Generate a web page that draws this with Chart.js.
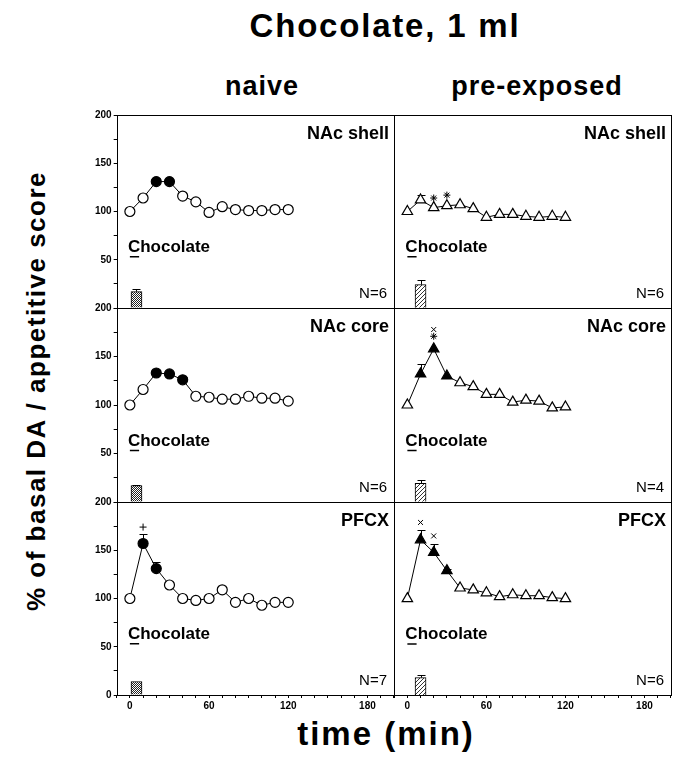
<!DOCTYPE html>
<html>
<head>
<meta charset="utf-8">
<script src="https://cdn.jsdelivr.net/npm/chart.js@4.4.0/dist/chart.umd.min.js"></script>
<style>
body { margin: 0; background: #fff; width: 678px; height: 768px; position: relative; overflow: hidden;
  font-family: "Liberation Sans", Arial, sans-serif; }
.txt { position: absolute; font-weight: bold; color: #000; white-space: nowrap; line-height: 1; }
canvas { position: absolute; }
</style>
</head>
<body>
<div class="txt" style="left:385px;top:9px;font-size:33px;letter-spacing:1.8px;transform:translateX(-50%)">Chocolate, 1 ml</div>
<div class="txt" style="left:262px;top:73px;font-size:27px;letter-spacing:1px;transform:translateX(-50%)">naive</div>
<div class="txt" style="left:537px;top:73px;font-size:27px;letter-spacing:1px;transform:translateX(-50%)">pre-exposed</div>
<div class="txt" style="left:36px;top:391px;font-size:26px;letter-spacing:1.5px;transform:translate(-50%,-50%) rotate(-90deg)">% of basal DA / appetitive score</div>
<div class="txt" style="left:386px;top:717px;font-size:33px;letter-spacing:2px;transform:translateX(-50%)">time (min)</div>

<script>
// sampling times (min)
const times = [0, 10, 20, 30, 40, 50, 60, 70, 80, 90, 100, 110, 120];

// NAc shell
const naiveShell    = [100, 114, 131, 131, 116, 110, 99, 105, 102, 101, 101, 102, 102];
const naiveShellErr = [0, 0, 4, 3, 0, 0, 0, 0, 0, 0, 0, 0, 0];
const naiveShellSig = [0, 0, 1, 1, 0, 0, 0, 0, 0, 0, 0, 0, 0];
const preShell      = [100, 112, 104, 106, 107, 103, 94, 97, 97, 95, 94, 95, 94];
const preShellErr   = [0, 5, 0, 0, 0, 0, 0, 0, 0, 0, 0, 0, 0];
const preShellSig   = [0, 0, 0, 0, 0, 0, 0, 0, 0, 0, 0, 0, 0];

// NAc core
const naiveCore    = [100, 116, 133, 132, 126, 109, 108, 106, 106, 109, 107, 107, 104];
const naiveCoreErr = [0, 0, 3, 2, 3, 0, 0, 0, 0, 0, 0, 0, 0];
const naiveCoreSig = [0, 0, 1, 1, 1, 0, 0, 0, 0, 0, 0, 0, 0];
const preCore      = [100, 132, 158, 130, 123, 119, 111, 111, 103, 105, 104, 97, 98];
const preCoreErr   = [0, 10, 0, 0, 0, 0, 0, 0, 0, 0, 0, 0, 0];
const preCoreSig   = [0, 1, 1, 1, 0, 0, 0, 0, 0, 0, 0, 0, 0];

// PFCX
const naivePfc    = [100, 157, 131, 114, 100, 98, 100, 109, 96, 100, 93, 96, 96];
const naivePfcErr = [0, 10, 7, 0, 0, 0, 0, 0, 0, 0, 0, 0, 0];
const naivePfcSig = [0, 1, 1, 0, 0, 0, 0, 0, 0, 0, 0, 0, 0];
const prePfc      = [100, 161, 148, 129, 111, 109, 106, 102, 104, 103, 103, 101, 100];
const prePfcErr   = [0, 10, 9, 2, 0, 0, 0, 0, 0, 0, 0, 0, 0];
const prePfcSig   = [0, 1, 1, 1, 0, 0, 0, 0, 0, 0, 0, 0, 0];

// appetitive score bars (shell, core, pfcx)
const naiveScoreTime = 5;
const preScoreTime = 10;
const naiveScores   = [17, 17, 14];
const naiveScoreErr = [3, 1, 0];
const preScores     = [24, 19, 18];
const preScoreErr   = [5, 4, 3];

// chocolate delivery (min)
const dose = [0, 7];

const regions = ['NAc shell', 'NAc core', 'PFCX'];
const naiveN = ['N=6', 'N=6', 'N=7'];
const preN = ['N=6', 'N=4', 'N=6'];

// significance symbols [time, value]
const preShellStars = [[20, 114], [30, 117]];
const preCoreStars = [[20, 171]];
const preCoreCrosses = [[20, 178]];
const naivePfcPlus = [[10, 174]];
const prePfcCrosses = [[10, 179], [20, 165]];

Chart.defaults.font.family = '"Liberation Sans", Arial, sans-serif';
Chart.defaults.color = '#000';

const colLeft = [117, 394];
const colWidth = 277;
const rowTop = [115, 308, 502];
const rowHeight = [193, 194, 193];
const FONT = '"Liberation Sans", Arial, sans-serif';

function makePattern(kind) {
  const c = document.createElement('canvas');
  const g = c.getContext('2d');
  if (kind === 'check') {
    c.width = c.height = 2;
    g.fillStyle = '#fff'; g.fillRect(0, 0, 2, 2);
    g.fillStyle = '#222'; g.fillRect(0, 0, 1, 1); g.fillRect(1, 1, 1, 1);
  } else {
    c.width = c.height = 4;
    g.fillStyle = '#fff'; g.fillRect(0, 0, 4, 4);
    g.fillStyle = '#333';
    for (let i = 0; i < 4; i++) g.fillRect(3 - i, i, 1, 1);
  }
  return g.createPattern(c, 'repeat');
}

const panels = [
  { col: 0, row: 0, vals: naiveShell, err: naiveShellErr, sig: naiveShellSig, score: naiveScores[0], scoreErr: naiveScoreErr[0], at: naiveScoreTime, label: regions[0], n: naiveN[0], marks: [] },
  { col: 1, row: 0, vals: preShell, err: preShellErr, sig: preShellSig, score: preScores[0], scoreErr: preScoreErr[0], at: preScoreTime, label: regions[0], n: preN[0], marks: [['star', preShellStars]] },
  { col: 0, row: 1, vals: naiveCore, err: naiveCoreErr, sig: naiveCoreSig, score: naiveScores[1], scoreErr: naiveScoreErr[1], at: naiveScoreTime, label: regions[1], n: naiveN[1], marks: [] },
  { col: 1, row: 1, vals: preCore, err: preCoreErr, sig: preCoreSig, score: preScores[1], scoreErr: preScoreErr[1], at: preScoreTime, label: regions[1], n: preN[1], marks: [['star', preCoreStars], ['crossRot', preCoreCrosses]] },
  { col: 0, row: 2, vals: naivePfc, err: naivePfcErr, sig: naivePfcSig, score: naiveScores[2], scoreErr: naiveScoreErr[2], at: naiveScoreTime, label: regions[2], n: naiveN[2], marks: [['cross', naivePfcPlus]] },
  { col: 1, row: 2, vals: prePfc, err: prePfcErr, sig: prePfcSig, score: preScores[2], scoreErr: preScoreErr[2], at: preScoreTime, label: regions[2], n: preN[2], marks: [['crossRot', prePfcCrosses]] }
];

function config(p) {
  const tri = p.col === 1;
  const datasets = [
    {
      type: 'line',
      data: times.map((t, i) => ({ x: t, y: p.vals[i] })),
      borderColor: '#000', borderWidth: 1, tension: 0,
      pointStyle: tri ? 'triangle' : 'circle',
      pointRadius: tri ? 6 : 5,
      pointBorderWidth: 1.2,
      pointBorderColor: '#000',
      pointBackgroundColor: p.sig.map(s => s ? '#000' : '#fff'),
      clip: false, order: 1
    },
    {
      type: 'bar',
      data: [{ x: p.at, y: p.score }],
      backgroundColor: makePattern(tri ? 'hatch' : 'check'),
      borderColor: '#000', borderWidth: 1, barThickness: 11, order: 3
    },
    {
      type: 'line',
      data: dose.map(t => ({ x: t, y: 53 })),
      borderColor: '#000', borderWidth: 1.5, pointRadius: 0, order: 2
    }
  ];
  p.marks.forEach(([style, pts]) => {
    datasets.push({
      type: 'scatter',
      data: pts.map(([t, v]) => ({ x: t, y: v })),
      pointStyle: style, pointRadius: 3.5,
      borderColor: '#000', backgroundColor: '#000', pointBorderWidth: 1,
      clip: false, order: 0
    });
  });

  const panelPlugin = {
    id: 'panel',
    beforeDatasetsDraw(chart) {
      const { ctx, scales: { x, y } } = chart;
      ctx.save();
      ctx.strokeStyle = '#000';
      ctx.lineWidth = 1;
      const bar = (t, v, e) => {
        if (!e) return;
        const px = Math.round(x.getPixelForValue(t)) + 0.5;
        const y0 = y.getPixelForValue(v), y1 = Math.round(y.getPixelForValue(v + e)) + 0.5;
        ctx.beginPath();
        ctx.moveTo(px, y0); ctx.lineTo(px, y1);
        ctx.moveTo(px - 4, y1); ctx.lineTo(px + 4, y1);
        ctx.stroke();
      };
      p.err.forEach((e, i) => bar(times[i], p.vals[i], e));
      bar(p.at, p.score, p.scoreErr);
      ctx.restore();
    },
    afterDraw(chart) {
      const { ctx, chartArea: a, scales: { x, y } } = chart;
      const L = Math.round(a.left), T = Math.round(a.top), R = Math.round(a.right), B = Math.round(a.bottom);
      ctx.save();
      ctx.strokeStyle = '#000';
      ctx.lineWidth = 1;
      ctx.strokeRect(L + 0.5, T + 0.5, R - L, B - T);
      ctx.fillStyle = '#000';
      ctx.textBaseline = 'alphabetic';
      ctx.textAlign = 'right';
      ctx.font = 'bold 18px ' + FONT;
      ctx.fillText(p.label, R - 5, T + 24);
      ctx.font = '15px ' + FONT;
      ctx.fillText(p.n, R - 7, B - 10);
      ctx.textAlign = 'left';
      ctx.font = 'bold 17px ' + FONT;
      ctx.fillText('Chocolate', x.getPixelForValue(0) - 2, y.getPixelForValue(58));
      ctx.restore();
    }
  };

  const bottom = p.row === 2;
  return {
    type: 'line',
    data: { datasets },
    options: {
      responsive: false,
      maintainAspectRatio: false,
      animation: false,
      events: [],
      layout: { padding: { top: 6, right: 4, left: 0, bottom: 0 } },
      plugins: { legend: { display: false }, tooltip: { enabled: false } },
      scales: {
        x: {
          type: 'linear', min: -10, max: 200, offset: false,
          display: bottom,
          border: { display: false },
          grid: { offset: false, drawOnChartArea: false, drawTicks: true, tickLength: 3, color: '#000' },
          ticks: {
            stepSize: 10, autoSkip: false, maxRotation: 0, padding: 2,
            font: { size: 10, weight: 'bold' },
            callback: v => (v >= 0 && v <= 180 && v % 60 === 0) ? String(v) : ''
          }
        },
        y: {
          type: 'linear', min: 0, max: 200,
          display: p.col === 0,
          border: { display: false },
          grid: { drawOnChartArea: false, drawTicks: true, tickLength: 3, color: '#000' },
          ticks: {
            stepSize: 25, autoSkip: false, padding: 2,
            font: { size: 10, weight: 'bold' },
            callback: v => (v % 50 === 0 && (v > 0 || bottom)) ? String(v) : ''
          }
        }
      }
    },
    plugins: [panelPlugin]
  };
}

function build(p) {
  const tw = colWidth, th = rowHeight[p.row];
  let w = tw + (p.col === 0 ? 45 : 12);
  let h = th + (p.row === 2 ? 30 : 10);
  let canvas = document.createElement('canvas');
  canvas.width = w; canvas.height = h;
  document.body.appendChild(canvas);
  let chart = new Chart(canvas, config(p));
  w += tw - (Math.round(chart.chartArea.right) - Math.round(chart.chartArea.left));
  h += th - (Math.round(chart.chartArea.bottom) - Math.round(chart.chartArea.top));
  chart.destroy();
  canvas.remove();

  canvas = document.createElement('canvas');
  canvas.width = w; canvas.height = h;
  document.body.appendChild(canvas);
  chart = new Chart(canvas, config(p));
  canvas.style.left = (colLeft[p.col] - Math.round(chart.chartArea.left)) + 'px';
  canvas.style.top = (rowTop[p.row] - Math.round(chart.chartArea.top)) + 'px';
}

panels.forEach(build);
</script>
</body>
</html>
